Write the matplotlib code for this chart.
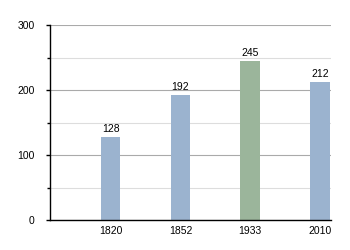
import matplotlib.pyplot as plt
from matplotlib.ticker import MultipleLocator

years = ['1820', '1852', '1933', '2010']
values = [128, 192, 245, 212]
colors = ['#9bb3cf', '#9bb3cf', '#9bb59b', '#9bb3cf']

plt.rcParams['font.family'] = ['Liberation Sans', 'DejaVu Sans']
plt.rcParams['font.size'] = 7.5

fig = plt.figure(figsize=(3.5, 2.5), dpi=100)
ax = fig.add_axes([0.143, 0.12, 0.803, 0.78])

pos = range(len(years))
bars = ax.bar(pos, values, width=0.28, color=colors, zorder=2)
for b, v in zip(bars, values):
    ax.annotate(str(v), (b.get_x() + b.get_width() / 2, v), xytext=(0, 2),
                textcoords='offset points', ha='center', va='bottom')

ax.set_xticks(list(pos))
ax.set_xticklabels(years)
ax.set_xlim(-0.87, 3.16)
ax.set_ylim(0, 300)
ax.yaxis.set_major_locator(MultipleLocator(100))
ax.yaxis.set_minor_locator(MultipleLocator(50))
ax.grid(axis='y', which='major', color='#aaaaaa', linewidth=0.8, zorder=0)
ax.grid(axis='y', which='minor', color='#dddddd', linewidth=0.8, zorder=0)
ax.set_axisbelow(True)

for s in ['top', 'right']:
    ax.spines[s].set_visible(False)
ax.spines['left'].set_linewidth(1)
ax.spines['bottom'].set_linewidth(1)
ax.tick_params(axis='x', length=0, pad=4)
ax.tick_params(axis='y', which='major', length=3, width=1, pad=8)
ax.tick_params(axis='y', which='minor', length=2, width=1)

fig.savefig('out.png')
